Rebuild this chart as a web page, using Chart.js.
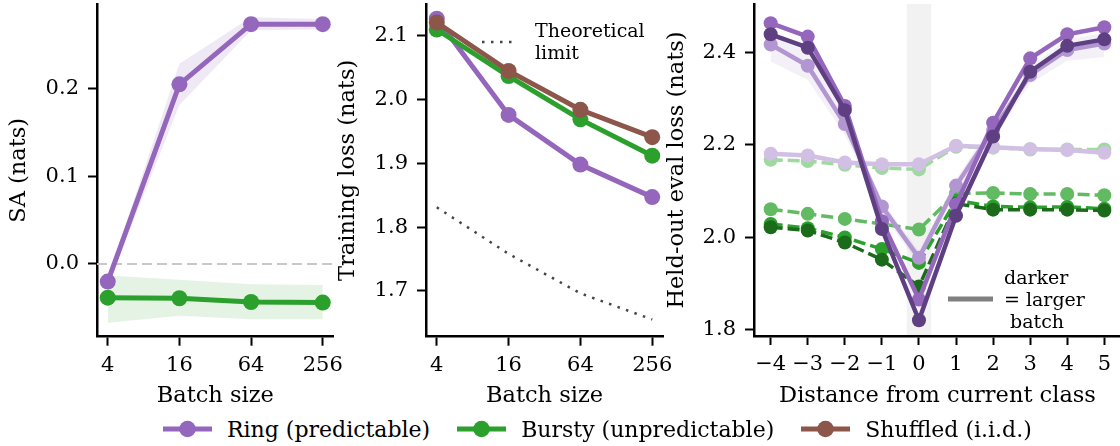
<!DOCTYPE html>
<html><head><meta charset="utf-8">
<script src="https://cdn.jsdelivr.net/npm/chart.js@4.4.0/dist/chart.umd.min.js"></script>
<style>
html,body{margin:0;padding:0;width:1120px;height:446px;overflow:hidden;background:#fff;}
.box{position:absolute;}
.txt{position:absolute;font-family:"DejaVu Serif",serif;font-size:19px;color:#000;white-space:pre;line-height:22px;}
</style></head><body>
<div class="box" style="left:0;top:0;"><canvas id="c1" width="345" height="412"></canvas></div>
<div class="box" style="left:330px;top:0;"><canvas id="c2" width="345" height="412"></canvas></div>
<div class="box" style="left:660px;top:0;"><canvas id="c3" width="461" height="412"></canvas></div>

<svg class="box" style="left:480px;top:36px" width="40" height="12"><line x1="2" y1="6" x2="36" y2="6" stroke="#444" stroke-width="2.5" stroke-dasharray="2.5 6.5"/></svg>
<div class="txt" style="left:535px;top:19px;">Theoretical
limit</div>

<svg class="box" style="left:946px;top:293px" width="50" height="12"><line x1="2" y1="6" x2="47" y2="6" stroke="#808080" stroke-width="5"/></svg>
<div class="txt" style="left:1004px;top:266px;">darker
= larger
 batch</div>

<div id="legend" class="box" style="left:163px;top:415px;height:28px;display:flex;align-items:center;font-family:'DejaVu Serif',serif;font-size:22px;white-space:nowrap;"></div>

<script>
// ---------- data ----------
const batchLabels = ['4', '16', '64', '256'];
// Panel 1: SA (nats)
const saRing      = [-0.020, 0.2045, 0.273, 0.273];
const saRingLo    = [-0.024, 0.181, 0.266, 0.267];
const saRingHi    = [-0.016, 0.228, 0.281, 0.279];
const saBursty    = [-0.0384, -0.039, -0.0433, -0.044];
const saBurstyLo  = [-0.067, -0.059, -0.063, -0.063];
const saBurstyHi  = [-0.013, -0.018, -0.023, -0.024];
const saZero = 0;
// Panel 2: Training loss (nats)
const trainRing     = [2.127, 1.976, 1.898, 1.847];
const trainBursty   = [2.110, 2.037, 1.969, 1.912];
const trainShuffled = [2.121, 2.045, 1.984, 1.941];
const theoryLimit   = [1.831, 1.758, 1.696, 1.655];
// Panel 3: Held-out eval loss (nats) vs distance
const distances = [-4, -3, -2, -1, 0, 1, 2, 3, 4, 5];
const distLabels = ['\u22124', '\u22123', '\u22122', '\u22121', '0', '1', '2', '3', '4', '5'];
const ring4    = [2.181, 2.177, 2.162, 2.158, 2.158, 2.198, 2.195, 2.191, 2.189, 2.183];
const ring16   = [2.417, 2.371, 2.245, 2.067, 1.956, 2.112, 2.232, 2.351, 2.405, 2.419];
const ring64   = [2.463, 2.434, 2.284, 2.035, 1.866, 2.071, 2.248, 2.387, 2.439, 2.454];
const ring256  = [2.439, 2.410, 2.275, 2.018, 1.821, 2.047, 2.218, 2.358, 2.414, 2.428];
const ring16Lo = [2.380, 2.340, 2.222, 2.052, 1.942, 2.097, 2.212, 2.332, 2.382, 2.390];
const ring16Hi = [2.440, 2.400, 2.268, 2.080, 1.970, 2.125, 2.250, 2.368, 2.428, 2.442];
const bursty4   = [2.168, 2.165, 2.157, 2.150, 2.147, 2.196, 2.194, 2.190, 2.190, 2.190];
const bursty16  = [2.061, 2.051, 2.040, 2.029, 2.017, 2.095, 2.096, 2.094, 2.094, 2.091];
const bursty64  = [2.029, 2.020, 2.000, 1.975, 1.945, 2.080, 2.067, 2.065, 2.066, 2.062];
const bursty256 = [2.022, 2.015, 1.989, 1.952, 1.894, 2.073, 2.060, 2.060, 2.060, 2.058];
const currentSpan = [-0.33, 0.33];

// ---------- style ----------
const TICK_FONT = {family: "'DejaVu Serif', serif", size: 21};
const TITLE_FONT = {family: "'DejaVu Serif', serif", size: 22.5};
const PURPLE = '#9467bd', GREEN = '#2ca02c', BROWN = '#8c564b';
const RING_SHADES = ['#d2c0e4', '#b296d2', '#9467bd', '#5e3f82'];
const BURSTY_SHADES = ['#9fd99f', '#62ba62', '#2ca02c', '#1b6b1b'];

const pts = (xs, ys) => ys.map((y, i) => ({x: xs[i], y}));
const idx = batchLabels.map((_, i) => i);
const noPad = s => { s.paddingTop = 0; s.paddingBottom = 0; s.paddingLeft = 0; s.paddingRight = 0; };

function scaleX(min, max, vals, labels, title, fitH, titlePadB) {
  return {
    type: 'linear', min, max,
    afterBuildTicks: s => { s.ticks = vals.map(v => ({value: v})); },
    afterFit: s => { s.height = fitH; noPad(s); },
    ticks: {color: '#000', font: TICK_FONT, padding: 7, maxRotation: 0, autoSkip: false,
      callback: (v) => labels[vals.indexOf(v)]},
    grid: {drawOnChartArea: false, drawTicks: true, tickLength: 9, tickWidth: 2, tickColor: '#000', color: '#000'},
    border: {display: true, color: '#000', width: 2.5},
    title: {display: true, text: title, color: '#000', font: TITLE_FONT, padding: {top: 0, bottom: titlePadB}}
  };
}
function scaleY(min, max, vals, labels, title, fitW, titlePadT) {
  return {
    type: 'linear', min, max,
    afterBuildTicks: s => { s.ticks = vals.map(v => ({value: v})); },
    afterFit: s => { s.width = fitW; noPad(s); },
    ticks: {color: '#000', font: TICK_FONT, padding: 9, autoSkip: false,
      callback: (v) => labels[vals.indexOf(v)]},
    grid: {drawOnChartArea: false, drawTicks: true, tickLength: 9, tickWidth: 2, tickColor: '#000', color: '#000'},
    border: {display: true, color: '#000', width: 2.5},
    title: {display: true, text: title, color: '#000', font: TITLE_FONT, padding: {top: titlePadT, bottom: 0}}
  };
}
function lineDs(data, color, opts) {
  return Object.assign({data, borderColor: color, backgroundColor: color, pointBackgroundColor: color,
    pointBorderColor: color, borderWidth: 5, pointRadius: 8, pointBorderWidth: 0, pointHoverRadius: 8,
    fill: false, tension: 0}, opts || {});
}
function bandDs(hi, lo, color, order) {
  return [
    {data: hi, fill: '+1', backgroundColor: color, borderWidth: 0, pointRadius: 0, order},
    {data: lo, fill: false, backgroundColor: color, borderWidth: 0, pointRadius: 0, order}
  ];
}
const basePlugins = {legend: {display: false}, tooltip: {enabled: false}, filler: {drawTime: 'beforeDatasetsDraw'}};

// ---------- panel 1 ----------
const zeroLine = {
  id: 'zeroLine',
  beforeDatasetsDraw(chart) {
    const {ctx, chartArea, scales} = chart;
    const y = scales.y.getPixelForValue(saZero);
    ctx.save(); ctx.strokeStyle = '#c8c8c8'; ctx.lineWidth = 2; ctx.setLineDash([10, 5]);
    ctx.beginPath(); ctx.moveTo(chartArea.left, y); ctx.lineTo(chartArea.right, y); ctx.stroke(); ctx.restore();
  }
};
new Chart(document.getElementById('c1'), {
  type: 'line',
  data: {datasets: [
    ...bandDs(pts(idx, saRingHi), pts(idx, saRingLo), 'rgba(148,103,189,0.15)', 50),
    ...bandDs(pts(idx, saBurstyHi), pts(idx, saBurstyLo), 'rgba(44,160,44,0.13)', 50),
    lineDs(pts(idx, saRing), PURPLE, {order: 1}),
    lineDs(pts(idx, saBursty), GREEN, {order: 2}),
  ]},
  options: {
    responsive: false, animation: false, events: [],
    layout: {autoPadding: false, padding: {top: 4, right: 11.5, left: 0, bottom: 0}},
    scales: {
      x: scaleX(-0.15, 3.15, idx, batchLabels, 'Batch size', 75.3, 2),
      y: scaleY(-0.0828, 0.296, [0, 0.1, 0.2], ['0.0', '0.1', '0.2'], 'SA (nats)', 97, 6)
    },
    plugins: basePlugins
  },
  plugins: [zeroLine]
});

// ---------- panel 2 ----------
new Chart(document.getElementById('c2'), {
  type: 'line',
  data: {datasets: [
    lineDs(pts(idx, theoryLimit), '#444444', {borderWidth: 2.5, borderDash: [2.5, 6.5], pointRadius: 0, order: 10}),
    lineDs(pts(idx, trainShuffled), BROWN, {order: 1}),
    lineDs(pts(idx, trainBursty), GREEN, {order: 2}),
    lineDs(pts(idx, trainRing), PURPLE, {order: 3}),
  ]},
  options: {
    responsive: false, animation: false, events: [],
    layout: {autoPadding: false, padding: {top: 4, right: 12, left: 0, bottom: 0}},
    scales: {
      x: scaleX(-0.15, 3.15, idx, batchLabels, 'Batch size', 75.3, 2),
      y: scaleY(1.628, 2.150, [1.7, 1.8, 1.9, 2.0, 2.1], ['1.7', '1.8', '1.9', '2.0', '2.1'], 'Training loss (nats)', 96, 5)
    },
    plugins: basePlugins
  }
});

// ---------- panel 3 ----------
const spanPlugin = {
  id: 'span',
  beforeDraw(chart) {
    const {ctx, chartArea, scales} = chart;
    const x0 = scales.x.getPixelForValue(currentSpan[0]), x1 = scales.x.getPixelForValue(currentSpan[1]);
    ctx.save(); ctx.fillStyle = '#f2f2f2';
    ctx.fillRect(x0, chartArea.top, x1 - x0, chartArea.bottom - chartArea.top); ctx.restore();
  }
};
const greenOpts = (o) => ({borderWidth: 3.5, borderDash: [12, 5], pointRadius: 7, pointHoverRadius: 7, order: o});
const purpleOpts = (o) => ({borderWidth: 4.5, pointRadius: 7, pointHoverRadius: 7, order: o});
new Chart(document.getElementById('c3'), {
  type: 'line',
  data: {datasets: [
    ...bandDs(pts(distances, ring16Hi), pts(distances, ring16Lo), 'rgba(148,103,189,0.10)', 50),
    lineDs(pts(distances, bursty4), BURSTY_SHADES[0], greenOpts(12)),
    lineDs(pts(distances, bursty16), BURSTY_SHADES[1], greenOpts(11)),
    lineDs(pts(distances, bursty64), BURSTY_SHADES[2], greenOpts(10)),
    lineDs(pts(distances, bursty256), BURSTY_SHADES[3], greenOpts(9)),
    lineDs(pts(distances, ring4), RING_SHADES[0], purpleOpts(4)),
    lineDs(pts(distances, ring16), RING_SHADES[1], purpleOpts(3)),
    lineDs(pts(distances, ring64), RING_SHADES[2], purpleOpts(2)),
    lineDs(pts(distances, ring256), RING_SHADES[3], purpleOpts(1)),
  ]},
  options: {
    responsive: false, animation: false, events: [],
    layout: {autoPadding: false, padding: {top: 4, right: 0, left: 0, bottom: 0}},
    scales: {
      x: scaleX(-4.45, 5.45, distances, distLabels, 'Distance from current class', 76, 2),
      y: scaleY(1.787, 2.5044, [1.8, 2.0, 2.2, 2.4], ['1.8', '2.0', '2.2', '2.4'], 'Held-out eval loss (nats)', 94, 4)
    },
    plugins: basePlugins
  },
  plugins: [spanPlugin]
});

// ---------- bottom legend ----------
const legendItems = [
  {label: 'Ring (predictable)', color: PURPLE},
  {label: 'Bursty (unpredictable)', color: GREEN},
  {label: 'Shuffled (i.i.d.)', color: BROWN},
];
const leg = document.getElementById('legend');
legendItems.forEach((it, i) => {
  const item = document.createElement('div');
  item.style.cssText = 'display:flex;align-items:center;margin-right:' + (i < 2 ? '27px' : '0');
  item.innerHTML = '<svg width="49" height="20" style="margin-right:15px"><line x1="0" y1="10" x2="49" y2="10" stroke="' + it.color +
    '" stroke-width="5"/><circle cx="24.5" cy="10" r="8.3" fill="' + it.color + '"/></svg><span>' + it.label + '</span>';
  leg.appendChild(item);
});
</script>
</body></html>
